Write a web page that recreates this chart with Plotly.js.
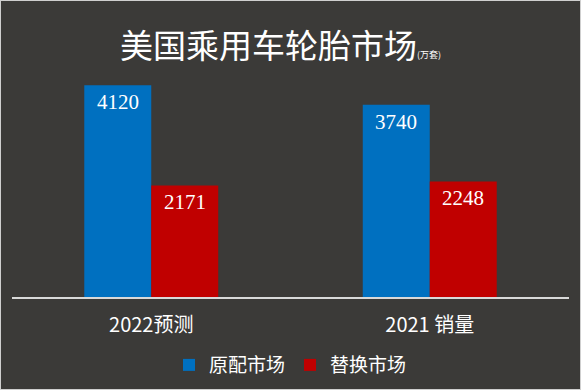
<!DOCTYPE html>
<html>
<head>
<meta charset="utf-8">
<script src="https://cdn.plot.ly/plotly-3.0.1.min.js"></script>
<style>
html,body{margin:0;padding:0;background:#3b3a38;}
#wrap{position:relative;width:581px;height:390px;}
#chart{width:581px;height:390px;}
#frame{position:absolute;left:0;top:0;width:579px;height:388px;border:1px solid #cfcfcf;pointer-events:none;}
</style>
</head>
<body>
<div id="wrap"><div id="chart"></div><div id="frame"></div></div>
<script>
const categories = ['2022预测', '2021 销量'];
const seriesNames = ['原配市场', '替换市场'];
const oemValues = [4120, 3740];
const replValues = [2171, 2248];
const colors = ['#0070c0', '#c00000'];

const traces = [
  {type:'bar', name:seriesNames[0], x:categories, y:oemValues, marker:{color:colors[0]}, hoverinfo:'none'},
  {type:'bar', name:seriesNames[1], x:categories, y:replValues, marker:{color:colors[1]}, hoverinfo:'none'}
];

const annotations = [];
[oemValues, replValues].forEach((vals, si) => {
  vals.forEach((v, i) => {
    annotations.push({
      x: categories[i], y: v, xref:'x', yref:'y',
      text: String(v), showarrow:false,
      xshift: si === 0 ? -33.5 : 33.5, yshift: -17,
      yanchor:'middle', xanchor:'center',
      font:{family:'Liberation Serif, Times New Roman, serif', size:21, color:'#ffffff'}
    });
  });
});

const layout = {
  width:581, height:390,
  paper_bgcolor:'#3b3a38', plot_bgcolor:'#3b3a38',
  margin:{l:12, r:12, t:60, b:92.5, autoexpand:false},
  barmode:'group', bargap:0.519, bargroupgap:0,
  title:{
    text:'美国乘用车轮胎市场<span style="font-size:9px">(万套)</span>',
    x:0.2065, xanchor:'left', xref:'container',
    y:0.882, yanchor:'middle', yref:'container',
    font:{family:'Noto Sans CJK SC, sans-serif', size:33, color:'#ffffff'}
  },
  xaxis:{
    showline:true, linecolor:'#d9d9d9', linewidth:1.5,
    ticks:'', showgrid:false, zeroline:false, automargin:false,
    ticklabelstandoff:9,
    tickfont:{family:'Noto Sans CJK SC, sans-serif', size:20, color:'#ffffff'}
  },
  yaxis:{
    range:[0, 4612], showgrid:false, zeroline:false, showticklabels:false, showline:false, ticks:'', automargin:false
  },
  showlegend:true,
  legend:{
    orientation:'h', x:0.5, xanchor:'center', xref:'paper',
    y:0.064, yanchor:'middle', yref:'container',
    font:{family:'Noto Sans CJK SC, sans-serif', size:19, color:'#ffffff'},
    bgcolor:'rgba(0,0,0,0)', itemclick:false
  },
  annotations: annotations
};

Plotly.newPlot('chart', traces, layout, {displayModeBar:false, staticPlot:true});
</script>
</body>
</html>
